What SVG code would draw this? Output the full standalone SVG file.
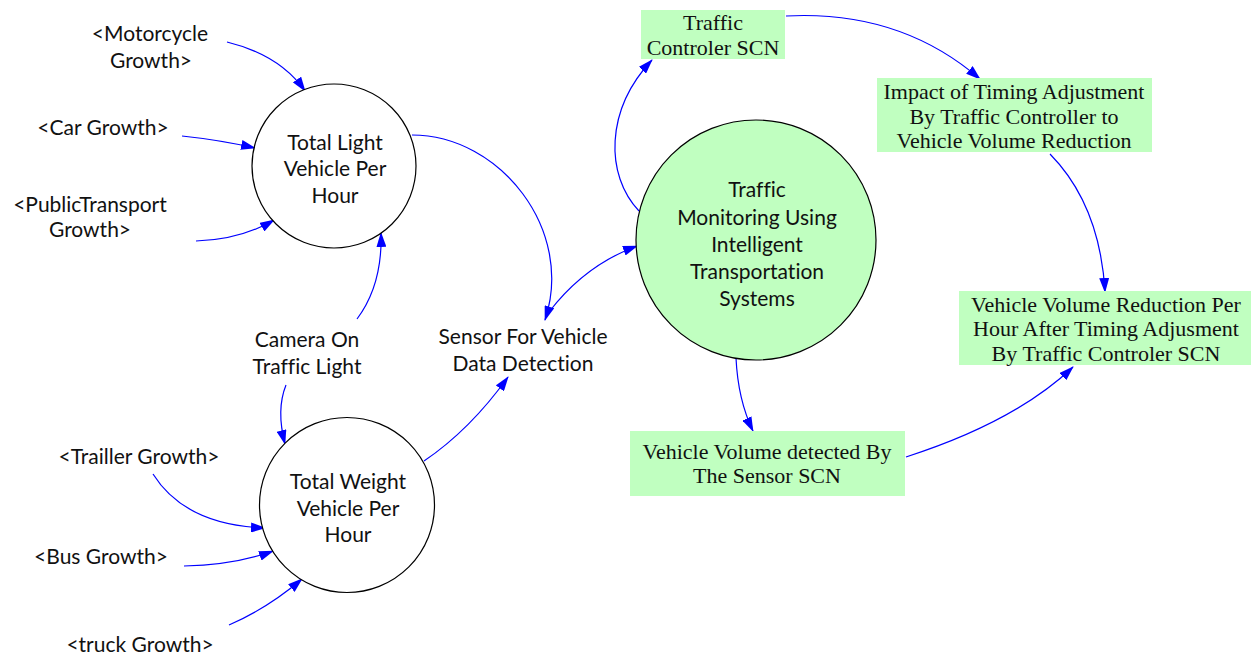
<svg xmlns="http://www.w3.org/2000/svg" width="1251" height="657" viewBox="0 0 1251 657">
  <style>
    .sans { font-family: Lato, "Open Sans", "Liberation Sans", sans-serif; font-size: 21px; fill: #111; text-anchor: middle; font-variant-ligatures: none; }
    .serif { font-family: "Liberation Serif", "Times New Roman", serif; font-size: 22px; fill: #111; text-anchor: middle; }
    .aux { fill: #ffffff; stroke: #000; stroke-width: 1.2; }
    .core { fill: #c0ffc0; stroke: #000; stroke-width: 1.2; }
    .box { fill: #c0ffc0; stroke: none; }
    .link { fill: none; stroke: #0000ff; stroke-width: 1.2; marker-end: url(#head); }
  </style>
  <defs>
    <marker id="head" viewBox="0 0 15 10" refX="14" refY="5" markerWidth="15" markerHeight="10" markerUnits="userSpaceOnUse" orient="auto">
      <path d="M0,0 L15,5 L0,10 z" fill="#0000ff"/>
    </marker>
  </defs>
  <rect width="1251" height="657" fill="#ffffff"/>

  <!-- connectors -->
  <g id="connectors">
    <path class="link" d="M227,42 Q280,55 305,91"/>
    <path class="link" d="M182,136 Q220,140 255,148"/>
    <path class="link" d="M196,241 Q240,240 274,220"/>
    <path class="link" d="M357,319 C375,295 382,265 381,233"/>
    <path class="link" d="M286,385 C278,405 280,425 285,444"/>
    <path class="link" d="M153,474 Q185,525 265,528"/>
    <path class="link" d="M184,566 Q235,565 273,551"/>
    <path class="link" d="M229,625 Q268,608 302,579"/>
    <path class="link" d="M424,461 Q470,430 508,377"/>
    <path class="link" d="M412,135 C500,135 575,230 545,320"/>
    <path class="link" d="M549,312 Q585,265 637,246"/>
    <path class="link" d="M639,211 C605,175 605,110 652,60"/>
    <path class="link" d="M786,16 Q900,10 980,79"/>
    <path class="link" d="M1050,154 Q1100,205 1105,292"/>
    <path class="link" d="M736,358 Q738,400 753,431"/>
    <path class="link" d="M906,457 Q1015,422 1073,367"/>
  </g>

  <!-- shadow variables and plain auxiliaries -->
  <g id="motorcycle-growth">
    <text class="sans" x="150" y="41">&lt;Motorcycle</text>
    <text class="sans" x="151" y="68">Growth&gt;</text>
  </g>
  <g id="car-growth">
    <text class="sans" x="103" y="135">&lt;Car Growth&gt;</text>
  </g>
  <g id="publictransport-growth">
    <text class="sans" x="90" y="212">&lt;PublicTransport</text>
    <text class="sans" x="90" y="237">Growth&gt;</text>
  </g>
  <g id="camera">
    <text class="sans" x="307" y="347">Camera On</text>
    <text class="sans" x="307" y="374">Traffic Light</text>
  </g>
  <g id="sensor">
    <text class="sans" x="523" y="344">Sensor For Vehicle</text>
    <text class="sans" x="523" y="371">Data Detection</text>
  </g>
  <g id="trailler-growth">
    <text class="sans" x="139" y="464">&lt;Trailler Growth&gt;</text>
  </g>
  <g id="bus-growth">
    <text class="sans" x="101" y="564">&lt;Bus Growth&gt;</text>
  </g>
  <g id="truck-growth">
    <text class="sans" x="140" y="652">&lt;truck Growth&gt;</text>
  </g>

  <!-- circle nodes -->
  <g id="total-light">
    <circle class="aux" cx="334" cy="166" r="82"/>
    <text class="sans" x="335" y="150">Total Light</text>
    <text class="sans" x="335" y="176">Vehicle Per</text>
    <text class="sans" x="335" y="203">Hour</text>
  </g>
  <g id="total-weight">
    <circle class="aux" cx="347" cy="505" r="87.5"/>
    <text class="sans" x="348" y="489">Total Weight</text>
    <text class="sans" x="348" y="516">Vehicle Per</text>
    <text class="sans" x="348" y="542">Hour</text>
  </g>
  <g id="its-monitoring">
    <circle class="core" cx="756" cy="240" r="120"/>
    <text class="sans" x="757" y="197">Traffic</text>
    <text class="sans" x="757" y="225">Monitoring Using</text>
    <text class="sans" x="757" y="252">Intelligent</text>
    <text class="sans" x="757" y="279">Transportation</text>
    <text class="sans" x="757" y="306">Systems</text>
  </g>

  <!-- boxed variables -->
  <g id="traffic-controler">
    <rect class="box" x="641" y="10" width="144" height="49"/>
    <text class="serif" x="713" y="30">Traffic</text>
    <text class="serif" x="713" y="55">Controler SCN</text>
  </g>
  <g id="impact-timing">
    <rect class="box" x="877" y="78" width="275" height="74"/>
    <text class="serif" x="1014" y="99">Impact of Timing Adjustment</text>
    <text class="serif" x="1014" y="124">By Traffic Controller to</text>
    <text class="serif" x="1014" y="148">Vehicle Volume Reduction</text>
  </g>
  <g id="volume-reduction">
    <rect class="box" x="959" y="291" width="292" height="74"/>
    <text class="serif" x="1106" y="312">Vehicle Volume Reduction Per</text>
    <text class="serif" x="1106" y="336">Hour After Timing Adjusment</text>
    <text class="serif" x="1106" y="361">By Traffic Controler SCN</text>
  </g>
  <g id="volume-detected">
    <rect class="box" x="630" y="431" width="275" height="65"/>
    <text class="serif" x="767" y="459">Vehicle Volume detected By</text>
    <text class="serif" x="767" y="483">The Sensor SCN</text>
  </g>
</svg>
